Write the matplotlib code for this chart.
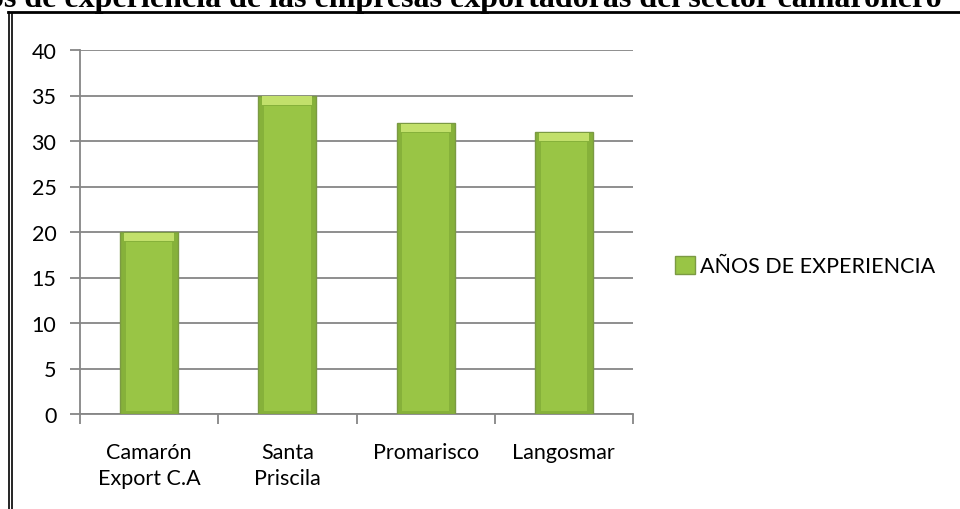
import matplotlib.pyplot as plt
from matplotlib.patches import Patch
from matplotlib.lines import Line2D

# datos del gráfico
empresas = ["Camarón\nExport C.A", "Santa\nPriscila", "Promarisco", "Langosmar"]
anios = [20, 35, 32, 31]
serie = "AÑOS DE EXPERIENCIA"
titulo = "Años de experiencia de las empresas exportadoras del sector camaronero"
y_ticks = [0, 5, 10, 15, 20, 25, 30, 35, 40]

verde = "#99C545"
verde_claro = "#C2E06B"
verde_osc = "#86B13A"
borde = "#7B9A43"
gris = "#868686"

plt.rcParams["font.family"] = ["Lato", "DejaVu Sans"]

fig = plt.figure(figsize=(9.6, 5.1), dpi=100)
ax = fig.add_axes([80 / 960, 1 - 415 / 510, (633 - 80) / 960, (415 - 51) / 510])

x = list(range(len(empresas)))
ancho = 0.42
ax.bar(x, anios, width=ancho, color=verde_osc, edgecolor=borde, linewidth=1, zorder=3)
# cara central y brillo superior (efecto bisel)
ax.bar(x, [v - 1.4 for v in anios], bottom=0.3, width=ancho * 0.8,
       color=verde, linewidth=0, zorder=4)
ax.bar(x, [0.9] * len(anios), bottom=[v - 1.0 for v in anios], width=ancho * 0.86,
       color=verde_claro, linewidth=0, zorder=4)

ax.set_xlim(-0.5, len(empresas) - 0.5)
ax.set_ylim(0, 40)
ax.set_yticks(y_ticks)
ax.set_yticklabels([str(t) for t in y_ticks], fontsize=15.5)
ax.set_xticks(x)
ax.set_xticklabels(empresas, fontsize=15.5, linespacing=1.4)
ax.set_xticks([i - 0.5 for i in range(len(empresas) + 1)], minor=True)
ax.tick_params(axis="x", which="major", length=0, pad=20)
ax.tick_params(axis="x", which="minor", length=7, width=1.3, color=gris)
ax.tick_params(axis="y", length=7, width=1.3, color=gris, pad=10)

ax.yaxis.grid(True, color=gris, linewidth=1.3, zorder=0)
ax.set_axisbelow(True)
for s in ["top", "right"]:
    ax.spines[s].set_visible(False)
for s in ["left", "bottom"]:
    ax.spines[s].set_color(gris)
    ax.spines[s].set_linewidth(1.3)

leg = fig.legend(handles=[Patch(facecolor=verde, edgecolor=borde, label=serie)],
                 loc="center left", bbox_to_anchor=(675 / 960, 1 - 267 / 510),
                 bbox_transform=fig.transFigure, frameon=False, fontsize=15.5,
                 handlelength=0.95, handleheight=0.95, handletextpad=0.2,
                 borderpad=0, borderaxespad=0)

# título (recortado arriba como en el original)
fig.text(942 / 960, 1 - 7 / 510, titulo, ha="right", va="baseline",
         fontsize=23, fontweight="bold", family="Liberation Serif")

# marco del documento
fig.add_artist(Line2D([8 / 960, 1], [1 - 13 / 510] * 2, color="black", lw=2,
                      transform=fig.transFigure))
fig.add_artist(Line2D([8.5 / 960] * 2, [0, 1 - 13 / 510], color="black", lw=1.2,
                      transform=fig.transFigure))
fig.add_artist(Line2D([12 / 960] * 2, [0, 1 - 15 / 510], color="black", lw=1.2,
                      transform=fig.transFigure))

fig.savefig("out.png", dpi=100)
